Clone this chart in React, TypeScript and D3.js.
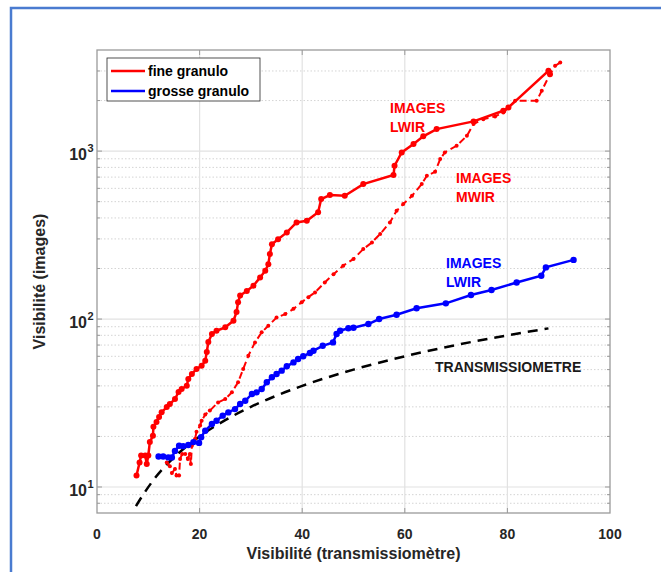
import React, { useRef, useEffect } from 'react';
import * as d3 from 'd3';

// fine granulo, LWIR images (solid red)
const fineVis = [7.7, 8.3, 8.6, 9.4, 9.7, 10.0, 10.3, 10.9, 11.0, 11.6, 12.1, 12.6, 13.6, 14.2, 15.2, 15.9, 16.5, 17.5, 17.8, 18.5, 19.4, 20.4, 21.1, 21.4, 21.7, 22.4, 23.3, 25.0, 26.6, 27.2, 27.5, 27.9, 29.2, 30.5, 31.8, 32.8, 33.4, 33.7, 34.1, 35.3, 37.0, 38.9, 40.9, 43.1, 43.7, 45.4, 48.3, 51.9, 57.8, 58.0, 59.4, 61.7, 63.6, 66.2, 73.4, 79.2, 80.2, 88.0, 88.3];
const fineImg = [11.7, 14.0, 15.4, 15.4, 13.7, 15.4, 18.5, 20.2, 22.8, 24.4, 26.1, 27.9, 29.9, 31.2, 33.4, 36.8, 38.3, 40.1, 44.0, 47.1, 50.4, 52.7, 56.5, 63.6, 73.0, 81.5, 85.2, 89.3, 97.7, 110, 126, 138, 147, 158, 177, 194, 212, 244, 279, 299, 328, 376, 385, 432, 518, 547, 542, 636, 720, 818, 982, 1101, 1224, 1352, 1503, 1738, 1820, 3006, 2872];

// fine granulo, MWIR images (dashed red)
const mwirVis = [12.0, 12.9, 13.6, 14.2, 14.6, 15.2, 15.5, 16.0, 16.2, 16.6, 17.2, 17.7, 18.1, 18.3, 18.5, 19.1, 19.4, 20.1, 20.4, 21.1, 22.0, 23.6, 25.0, 26.3, 27.5, 28.5, 29.5, 30.8, 32.1, 33.4, 35.0, 36.7, 38.3, 39.9, 41.2, 42.5, 44.4, 46.1, 48.0, 50.0, 51.9, 53.6, 55.2, 57.1, 58.4, 59.7, 61.4, 63.3, 64.3, 65.9, 66.9, 67.8, 70.1, 72.1, 73.4, 75.3, 77.6, 79.2, 81.5, 85.7, 86.7, 88.3, 89.3, 90.3];
const mwirImg = [15.2, 15.2, 14.0, 13.3, 12.1, 12.8, 11.7, 11.7, 14.7, 15.7, 15.7, 14.7, 15.7, 13.7, 17.6, 19.3, 21.3, 23.2, 24.8, 27.0, 28.5, 31.9, 33.4, 36.6, 42.0, 50.4, 60.5, 72.6, 83.3, 91.2, 102, 107, 115, 126, 135, 144, 165, 185, 208, 228, 261, 286, 321, 376, 441, 484, 542, 636, 713, 753, 896, 982, 1076, 1233, 1448, 1550, 1610, 1699, 1993, 1993, 2286, 2872, 3219, 3373];

// grosse granulo, LWIR images (solid blue)
const grosVis = [12.0, 12.9, 13.9, 14.6, 15.2, 16.0, 16.8, 17.8, 18.8, 19.9, 20.3, 21.1, 22.4, 23.3, 24.5, 25.6, 26.9, 27.9, 28.9, 30.2, 31.1, 32.1, 33.1, 34.1, 35.0, 36.0, 37.0, 38.3, 39.2, 40.2, 41.5, 42.2, 44.0, 46.0, 46.7, 47.4, 49.0, 50.0, 52.9, 55.0, 58.4, 62.3, 68.0, 72.9, 76.9, 81.8, 86.6, 87.5, 92.9];
const grosImg = [15.2, 15.2, 15.0, 15.0, 16.4, 17.6, 17.5, 17.8, 18.5, 18.3, 19.8, 21.6, 23.7, 24.8, 26.6, 27.8, 29.1, 31.2, 32.6, 35.8, 36.6, 38.3, 42.0, 45.0, 47.1, 49.3, 52.3, 55.2, 57.8, 60.0, 62.8, 64.8, 69.3, 72.6, 81.4, 85.2, 88.1, 88.8, 93.4, 100, 106, 116, 124, 139, 149, 165, 181, 203, 225];

// transmissiometre reference (dashed black)
const transVis = [7.6, 9, 11, 13, 16, 20, 25, 30, 35, 40, 50, 60, 70, 80, 88];
const transImg = [7.7, 9, 11, 13, 16, 20, 25, 30, 35, 40, 50, 60, 70, 80, 88];

const xTicks = [0, 20, 40, 60, 80, 100];
const yMajor = [10, 100, 1000];
const yExp = ['1', '2', '3'];
const yMinor = [8, 9, 20, 30, 40, 50, 60, 70, 80, 90, 200, 300, 400, 500, 600, 700, 800, 900, 2000, 3000];

const legendNames = ['fine granulo', 'grosse granulo'];

export default function App() {
  const svgRef = useRef<SVGSVGElement>(null);

  useEffect(() => {
    if (!svgRef.current) return;
    const svg = d3.select(svgRef.current);
    svg.selectAll('*').remove();

    const W = 661, H = 572;
    const L = 97, R = 610, T = 50, B = 513;
    const font = '"Liberation Sans", Arial, sans-serif';

    svg.attr('width', W).attr('height', H);
    svg.append('rect').attr('width', W).attr('height', H).attr('fill', '#fff');

    // blue frame (left + top edges only are visible)
    svg.append('path')
      .attr('d', `M11,${H + 5} L11,8 L${W + 5},8`)
      .attr('fill', 'none').attr('stroke', '#4a7bd0').attr('stroke-width', 2.5);

    const x = d3.scaleLinear().domain([0, 100]).range([L, R]);
    const y = d3.scaleLog().domain([7, 4000]).range([B, T]);

    const g = svg.append('g');

    // grid
    g.selectAll('.ymin').data(yMinor).enter().append('line')
      .attr('x1', L).attr('x2', R).attr('y1', d => y(d)).attr('y2', d => y(d))
      .attr('stroke', '#d4d4d4').attr('stroke-width', 1).attr('stroke-dasharray', '1.5,2');
    g.selectAll('.ymaj').data(yMajor).enter().append('line')
      .attr('x1', L).attr('x2', R).attr('y1', d => y(d)).attr('y2', d => y(d))
      .attr('stroke', '#e2e2e2').attr('stroke-width', 1.2);
    g.selectAll('.xmaj').data(xTicks.slice(1, -1)).enter().append('line')
      .attr('x1', d => x(d)).attr('x2', d => x(d)).attr('y1', T).attr('y2', B)
      .attr('stroke', '#e2e2e2').attr('stroke-width', 1.2);

    const pts = (xs: number[], ys: number[]) => xs.map((v, i) => [v, ys[i]] as [number, number]);
    const line = d3.line<[number, number]>().x(d => x(d[0])).y(d => y(d[1]));

    // transmissiometre
    g.append('path')
      .datum(pts(transVis, transImg))
      .attr('d', d3.line<[number, number]>().x(d => x(d[0])).y(d => y(d[1])).curve(d3.curveMonotoneX))
      .attr('fill', 'none').attr('stroke', '#000').attr('stroke-width', 2.5)
      .attr('stroke-dasharray', '10,7');

    // MWIR dashed red
    const mwir = pts(mwirVis, mwirImg);
    g.append('path').datum(mwir).attr('d', line)
      .attr('fill', 'none').attr('stroke', '#ff0000').attr('stroke-width', 2)
      .attr('stroke-dasharray', '7,4');
    g.selectAll('.mw').data(mwir).enter().append('circle')
      .attr('cx', d => x(d[0])).attr('cy', d => y(d[1])).attr('r', 2).attr('fill', '#ff0000');

    // fine LWIR solid red
    const fine = pts(fineVis, fineImg);
    g.append('path').datum(fine).attr('d', line)
      .attr('fill', 'none').attr('stroke', '#ff0000').attr('stroke-width', 2.5);
    g.selectAll('.fn').data(fine).enter().append('circle')
      .attr('cx', d => x(d[0])).attr('cy', d => y(d[1])).attr('r', 3).attr('fill', '#ff0000');

    // grosse LWIR solid blue
    const gros = pts(grosVis, grosImg);
    g.append('path').datum(gros).attr('d', line)
      .attr('fill', 'none').attr('stroke', '#0000ff').attr('stroke-width', 2.5);
    g.selectAll('.gr').data(gros).enter().append('circle')
      .attr('cx', d => x(d[0])).attr('cy', d => y(d[1])).attr('r', 3.2).attr('fill', '#0000ff');

    // axes box + ticks
    const axCol = '#9a9a9a';
    g.append('rect').attr('x', L).attr('y', T).attr('width', R - L).attr('height', B - T)
      .attr('fill', 'none').attr('stroke', axCol).attr('stroke-width', 1.3);
    xTicks.slice(1, -1).forEach(v => {
      g.append('line').attr('x1', x(v)).attr('x2', x(v)).attr('y1', B).attr('y2', B - 5).attr('stroke', axCol);
      g.append('line').attr('x1', x(v)).attr('x2', x(v)).attr('y1', T).attr('y2', T + 5).attr('stroke', axCol);
    });
    yMajor.forEach(v => {
      g.append('line').attr('x1', L).attr('x2', L + 5).attr('y1', y(v)).attr('y2', y(v)).attr('stroke', axCol);
      g.append('line').attr('x1', R).attr('x2', R - 5).attr('y1', y(v)).attr('y2', y(v)).attr('stroke', axCol);
    });
    yMinor.forEach(v => {
      g.append('line').attr('x1', L).attr('x2', L + 3).attr('y1', y(v)).attr('y2', y(v)).attr('stroke', axCol);
      g.append('line').attr('x1', R).attr('x2', R - 3).attr('y1', y(v)).attr('y2', y(v)).attr('stroke', axCol);
    });

    const txtCol = '#262626';
    // x tick labels
    g.selectAll('.xl').data(xTicks).enter().append('text')
      .attr('x', d => x(d)).attr('y', 539)
      .attr('text-anchor', 'middle').attr('font-family', font).attr('font-weight', 'bold')
      .attr('font-size', 14).attr('fill', txtCol).text(d => String(d));

    // y tick labels 10^n
    yMajor.forEach((v, i) => {
      g.append('text').attr('x', 87).attr('y', y(v) + 9)
        .attr('text-anchor', 'end').attr('font-family', font).attr('font-weight', 'bold')
        .attr('font-size', 16).attr('fill', txtCol).text('10');
      g.append('text').attr('x', 87.5).attr('y', y(v) + 1)
        .attr('font-family', font).attr('font-weight', 'bold')
        .attr('font-size', 11).attr('fill', txtCol).text(yExp[i]);
    });

    // axis titles
    svg.append('text').attr('x', (L + R) / 2).attr('y', 559)
      .attr('text-anchor', 'middle').attr('font-family', font).attr('font-weight', 'bold')
      .attr('font-size', 16).attr('fill', txtCol).text('Visibilité (transmissiomètre)');
    svg.append('text').attr('transform', `translate(45,${(T + B) / 2}) rotate(-90)`)
      .attr('text-anchor', 'middle').attr('font-family', font).attr('font-weight', 'bold')
      .attr('font-size', 16).attr('fill', txtCol).text('Visibilité (images)');

    // annotations
    const ann = (tx: number, ty: number, lines: string[], col: string) => {
      lines.forEach((s, i) => {
        svg.append('text').attr('x', tx).attr('y', ty + i * 19)
          .attr('font-family', font).attr('font-weight', 'bold').attr('font-size', 14)
          .attr('fill', col).text(s);
      });
    };
    ann(390, 113, ['IMAGES', 'LWIR'], '#ff0000');
    ann(456, 183, ['IMAGES', 'MWIR'], '#ff0000');
    ann(446, 268, ['IMAGES', 'LWIR'], '#0000ff');
    ann(435, 372, ['TRANSMISSIOMETRE'], '#1a1a1a');

    // legend
    const lg = svg.append('g');
    lg.append('rect').attr('x', 107).attr('y', 58).attr('width', 153).attr('height', 43)
      .attr('fill', '#fff').attr('stroke', '#262626').attr('stroke-width', 0.8);
    const legCols = ['#ff0000', '#0000ff'];
    legendNames.forEach((n, i) => {
      const ly = 71 + i * 20;
      lg.append('line').attr('x1', 111).attr('x2', 145).attr('y1', ly).attr('y2', ly)
        .attr('stroke', legCols[i]).attr('stroke-width', 2.5);
      lg.append('text').attr('x', 148).attr('y', ly + 5)
        .attr('font-family', font).attr('font-weight', 'bold').attr('font-size', 14)
        .attr('fill', '#000').text(n);
    });
  }, []);

  return (
    <div style={{ position: 'absolute', left: 0, top: 0 }}>
      <svg ref={svgRef} style={{ display: 'block' }}></svg>
    </div>
  );
}
